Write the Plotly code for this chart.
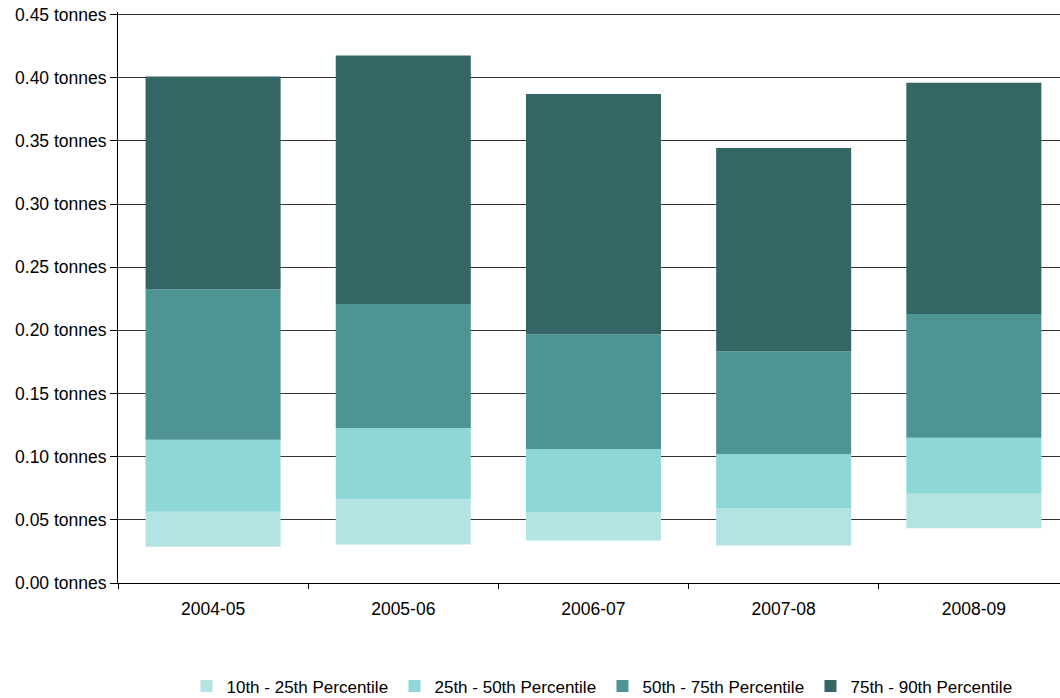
import plotly.graph_objects as go

categories = ["2004-05", "2005-06", "2006-07", "2007-08", "2008-09"]
p10 = [0.0286, 0.0304, 0.0336, 0.0296, 0.0433]
p25 = [0.0564, 0.0663, 0.0563, 0.0594, 0.0706]
p50 = [0.1133, 0.1226, 0.1060, 0.1020, 0.1150]
p75 = [0.2323, 0.2208, 0.1970, 0.1834, 0.2130]
p90 = [0.4010, 0.4176, 0.3870, 0.3444, 0.3960]

series_names = ["10th - 25th Percentile", "25th - 50th Percentile",
                "50th - 75th Percentile", "75th - 90th Percentile"]
colors = ["#B3E3E3", "#8FD7D6", "#4D9492", "#336664"]

tick_values = [0, 0.05, 0.10, 0.15, 0.20, 0.25, 0.30, 0.35, 0.40, 0.45]
tick_labels = ["%.2f tonnes" % v for v in tick_values]

levels = [p10, p25, p50, p75, p90]

fig = go.Figure()
for i, name in enumerate(series_names):
    lo = levels[i]
    hi = levels[i + 1]
    fig.add_trace(go.Bar(
        x=categories,
        y=[h - l for h, l in zip(hi, lo)],
        base=lo,
        name=name,
        marker=dict(color=colors[i], line=dict(width=0)),
        width=0.71,
    ))

fig.update_layout(
    barmode="overlay",
    width=1060, height=698,
    margin=dict(l=118, r=0, t=12.2, b=115.3, autoexpand=False),
    paper_bgcolor="white", plot_bgcolor="white",
    font=dict(family="Liberation Sans, Arial, sans-serif", size=17, color="black"),
    legend=dict(
        orientation="h",
        x=0.0727, xanchor="left",
        y=-0.181, yanchor="middle",
        entrywidth=163, entrywidthmode="pixels",
        font=dict(size=17),
        traceorder="normal",
    ),
    showlegend=True,
)
fig.update_xaxes(
    type="category",
    range=[-0.5, 4.453],
    showline=True, linecolor="black", linewidth=1,
    ticks="outside", tickson="boundaries", ticklen=5, tickcolor="black",
    showgrid=False,
    ticklabelstandoff=10,
    tickfont=dict(size=17.5),
    automargin=False,
)
fig.update_yaxes(
    range=[0, 0.452],
    tickvals=tick_values,
    ticktext=tick_labels,
    ticklabeloverflow="allow",
    tickfont=dict(size=17.5),
    showline=True, linecolor="black", linewidth=1,
    ticks="outside", ticklen=7, tickcolor="black",
    showgrid=True, gridcolor="#333333", gridwidth=1,
    zeroline=False,
    automargin=False,
)

fig.write_html(
    "out.html",
    config={"displayModeBar": False},
    post_script="document.body.style.margin='0';document.body.style.overflow='hidden';",
)
